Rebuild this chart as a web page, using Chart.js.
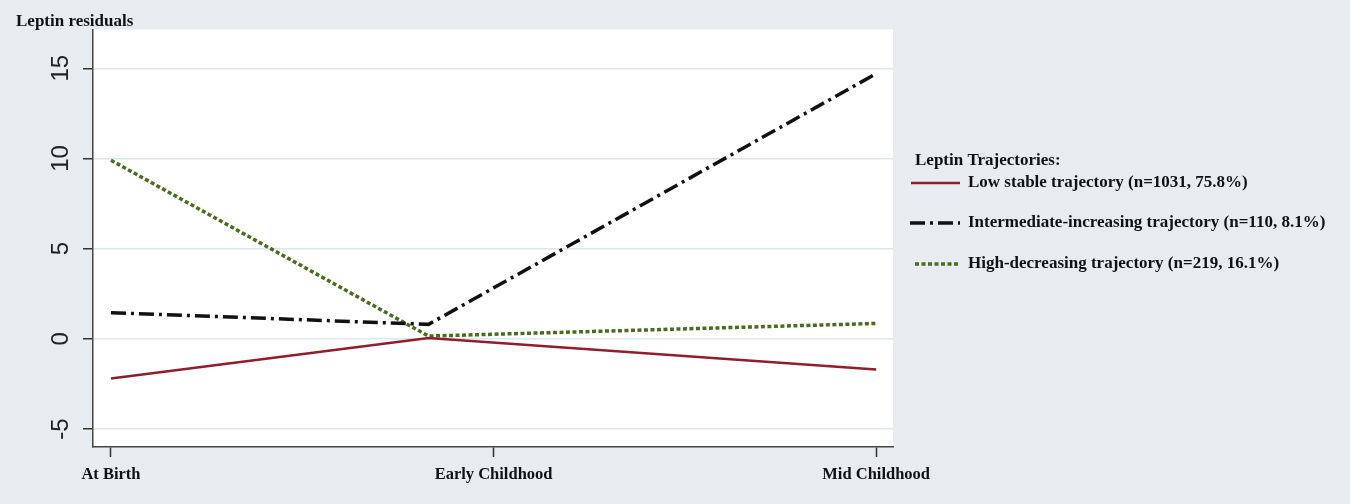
<!DOCTYPE html>
<html>
<head>
<meta charset="utf-8">
<script src="https://cdn.jsdelivr.net/npm/chart.js@4/dist/chart.umd.min.js"></script>
<style>
  html, body { margin: 0; padding: 0; background: #e6ecf0; }
  #wrap { width: 1350px; height: 504px; }
</style>
</head>
<body>
<div id="wrap"><canvas id="leptinChart" width="1350" height="504"></canvas></div>
<script>
const xLabels = ["At Birth", "Early Childhood", "Mid Childhood"];
const xTickValues = [0, 1, 2];
const yTickValues = [-5, 0, 5, 10, 15];

// time point of each estimate (middle one sits a bit before the Early Childhood tick)
const timePoints = [0, 0.83, 2];
const lowStable = [-2.2, 0.05, -1.7];
const intermediateIncreasing = [1.45, 0.8, 14.7];
const highDecreasing = [9.9, 0.15, 0.85];

const seriesLabels = [
  "Low stable trajectory (n=1031, 75.8%)",
  "Intermediate-increasing trajectory (n=110, 8.1%)",
  "High-decreasing trajectory (n=219, 16.1%)"
];
const legendTitle = "Leptin Trajectories:";

const toPoints = vals => vals.map((v, i) => ({ x: timePoints[i], y: v }));

const serifBold = size => ({ family: "'Liberation Serif', 'Times New Roman', serif", weight: "bold", size: size });

const backdrop = {
  id: "backdrop",
  beforeDraw(chart) {
    const { ctx, chartArea } = chart;
    ctx.save();
    ctx.fillStyle = "#e6ecf0";
    ctx.fillRect(0, 0, chart.width, chart.height);
    ctx.fillStyle = "#ffffff";
    ctx.fillRect(chartArea.left, chartArea.top, chartArea.right - chartArea.left, chartArea.bottom - chartArea.top);
    ctx.restore();
  },
  afterDraw(chart) {
    const ctx = chart.ctx;
    ctx.save();
    ctx.font = "bold 17px 'Liberation Serif', 'Times New Roman', serif";
    ctx.fillStyle = "#111";
    ctx.textBaseline = "middle";
    ctx.textAlign = "left";
    ctx.fillText(legendTitle, 915, 161);
    const rows = [183, 223, 264];
    const starts = [911, 910, 915];
    chart.data.datasets.forEach((ds, i) => {
      ctx.beginPath();
      ctx.strokeStyle = ds.borderColor;
      ctx.lineWidth = ds.borderWidth;
      ctx.setLineDash(ds.borderDash || []);
      ctx.moveTo(starts[i], rows[i]);
      ctx.lineTo(960, rows[i]);
      ctx.stroke();
      ctx.setLineDash([]);
      ctx.fillText(ds.label, 968, rows[i]);
    });
    ctx.restore();
  }
};

new Chart(document.getElementById("leptinChart"), {
  type: "line",
  data: {
    datasets: [
      {
        label: seriesLabels[0],
        data: toPoints(lowStable),
        borderColor: "#8f1d2c",
        borderWidth: 2.5,
        borderDash: []
      },
      {
        label: seriesLabels[1],
        data: toPoints(intermediateIncreasing),
        borderColor: "#111111",
        borderWidth: 3.5,
        borderDash: [15, 5, 3, 5]
      },
      {
        label: seriesLabels[2],
        data: toPoints(highDecreasing),
        borderColor: "#4b6b1f",
        borderWidth: 3.5,
        borderDash: [4, 2.5]
      }
    ]
  },
  options: {
    responsive: false,
    animation: false,
    devicePixelRatio: 1,
    layout: { padding: { left: 16, right: 457, top: 0, bottom: 0 } },
    elements: {
      point: { radius: 0 },
      line: { tension: 0, fill: false }
    },
    plugins: {
      legend: { display: false },
      tooltip: { enabled: false },
      title: {
        display: true,
        text: "Leptin residuals",
        align: "start",
        color: "#111",
        font: { ...serifBold(17), lineHeight: 0.9 },
        padding: { top: 14, bottom: 0 }
      }
    },
    scales: {
      x: {
        type: "linear",
        min: -0.047,
        max: 2.044,
        afterBuildTicks: s => { s.ticks = xTickValues.map(v => ({ value: v })); },
        afterFit: s => { s.height = 57; },
        ticks: {
          autoSkip: false,
          maxRotation: 0,
          padding: 8,
          color: "#111",
          font: serifBold(16.5),
          callback: v => xLabels[xTickValues.indexOf(v)]
        },
        grid: { drawOnChartArea: false, tickLength: 10, tickColor: "#333", tickWidth: 1.5 },
        border: { color: "#444", width: 1.5 }
      },
      y: {
        min: -6,
        max: 17.16,
        afterBuildTicks: s => { s.ticks = yTickValues.map(v => ({ value: v })); },
        afterFit: s => { s.width = 77; },
        ticks: {
          minRotation: 90,
          maxRotation: 90,
          crossAlign: "center",
          padding: 8,
          color: "#222",
          font: { family: "'Liberation Sans', Arial, sans-serif", size: 24 }
        },
        grid: { color: "#dce6ec", lineWidth: 1.5, tickLength: 10, tickColor: "#333", tickWidth: 1.5 },
        border: { color: "#444", width: 1.5 }
      }
    }
  },
  plugins: [backdrop]
});
</script>
</body>
</html>
